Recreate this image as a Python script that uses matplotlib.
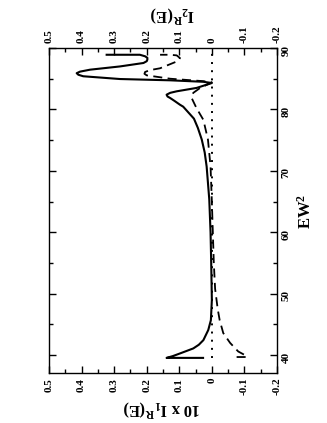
import matplotlib
matplotlib.use('Agg')
import matplotlib.pyplot as plt
from matplotlib.ticker import MultipleLocator, FuncFormatter

plt.rcParams['font.family'] = ['Liberation Serif', 'DejaVu Serif']
plt.rcParams['font.weight'] = 'bold'
plt.rcParams['axes.unicode_minus'] = False
plt.rcParams['mathtext.fontset'] = 'custom'
plt.rcParams['mathtext.rm'] = 'Liberation Serif:bold'
plt.rcParams['mathtext.it'] = 'Liberation Serif:bold'
plt.rcParams['mathtext.bf'] = 'Liberation Serif:bold'

# EW^2 and 10 x I1^R(E) (solid)
ew_solid = [39.56, 39.56, 39.85, 40.28, 41.1, 41.7, 42.45, 44.1, 45.7, 49.0,
            55.0, 60.0, 65.4, 70.7, 73.0, 75.1, 77.0, 78.5, 80.45, 80.77,
            81.4, 81.86, 82.1, 82.4, 82.7, 82.95, 83.5, 84.3, 84.5, 84.74,
            84.95, 85.4, 85.65, 85.9, 86.15, 86.47, 87.0, 87.56, 87.85, 88.1,
            88.4, 88.65, 88.9, 88.9]
i1_solid = [0.027, 0.139, 0.12, 0.098, 0.057, 0.04, 0.026, 0.011, 0.003, 0.0,
            0.002, 0.004, 0.008, 0.016, 0.022, 0.031, 0.043, 0.055, 0.088, 0.098,
            0.115, 0.128, 0.136, 0.139, 0.128, 0.108, 0.047, 0.0, 0.026, 0.128,
            0.282, 0.395, 0.41, 0.415, 0.405, 0.374, 0.282, 0.21, 0.2, 0.198,
            0.198, 0.205, 0.221, 0.323]

# EW^2 and I2^R(E) (dashed)
ew_dash = [39.7, 39.7, 40.0, 40.6, 42.0, 43.6, 45.7, 47.5, 50.8, 55.0,
           60.0, 65.0, 70.7, 75.1, 78.3, 80.2, 81.3, 81.86, 82.2, 82.7,
           83.5, 84.4, 84.6, 85.0, 85.55, 85.8, 86.1, 86.4, 86.7, 87.8,
           88.1, 88.37, 88.8, 88.9, 88.9]
i2_dash = [-0.076, -0.108, -0.102, -0.081, -0.056, -0.035, -0.024, -0.018, -0.01, -0.006,
           -0.003, 0.0, 0.004, 0.012, 0.026, 0.047, 0.057, 0.062, 0.062, 0.057,
           0.036, 0.0, 0.026, 0.128, 0.2, 0.207, 0.205, 0.19, 0.159, 0.108,
           0.1, 0.098, 0.108, 0.128, 0.159]

zero_ew = [39.5, 89.6]
zero_val = [0.0, 0.0]

W, H = 327, 423
fig = plt.figure(figsize=(W / 100, H / 100), dpi=100)
ax = fig.add_axes([49 / W, 1 - 373 / H, 228 / W, 325 / H])

ax.plot(i1_solid, ew_solid, color='black', lw=1.5)
ax.plot(i2_dash, ew_dash, color='black', lw=1.3, dashes=(5, 3))
ax.plot(zero_val, zero_ew, color='black', lw=1.4, linestyle=(0, (1, 3.2)))

ax.set_xlim(0.5, -0.2)
ax.set_ylim(37.1, 90)

fmt = FuncFormatter(lambda v, p: '0' if abs(v) < 1e-9 else '%g' % round(v, 2))
ax.xaxis.set_major_locator(MultipleLocator(0.1))
ax.xaxis.set_minor_locator(MultipleLocator(0.05))
ax.xaxis.set_major_formatter(fmt)
ax.yaxis.set_major_locator(MultipleLocator(10))
ax.yaxis.set_minor_locator(MultipleLocator(5))

ax.yaxis.tick_right()
ax.tick_params(which='both', direction='in', top=True, left=True, right=True,
               bottom=True, width=1)
ax.tick_params(which='major', length=5, labelsize=8)
ax.tick_params(which='minor', length=3)
ax.tick_params(axis='x', labelrotation=90, labeltop=True, labelbottom=True)
ax.tick_params(axis='y', labelrotation=90)

for lab in ax.get_xticklabels() + ax.get_yticklabels():
    lab.set_fontweight('bold')

for s in ax.spines.values():
    s.set_linewidth(1.0)

# axis titles (whole chart is turned a quarter turn)
fig.text(162 / W, 1 - 408 / H, r'10 x I$_1$$^R$(E)', fontsize=12, fontweight='bold',
         rotation=180, ha='center', va='center')
fig.text(172 / W, 1 - 14 / H, r'I$_2$$^R$(E)', fontsize=12, fontweight='bold',
         rotation=180, ha='center', va='center')
fig.text(306 / W, 1 - 211 / H, r'EW$^2$', fontsize=12, fontweight='bold',
         rotation=90, ha='center', va='center')

fig.savefig('out.png', dpi=100)
